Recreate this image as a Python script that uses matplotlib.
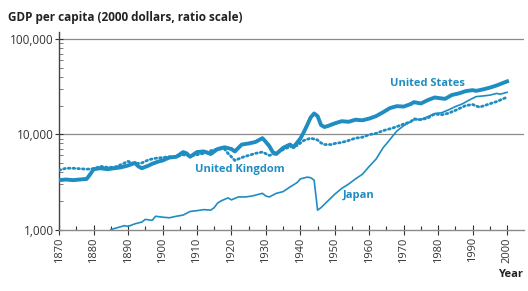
import matplotlib.pyplot as plt
from matplotlib.ticker import FixedLocator, NullFormatter, LogLocator

# GDP per capita, 2000 dollars
us_years = [1870, 1872, 1874, 1876, 1878, 1879, 1880, 1882, 1884, 1886, 1888, 1890,
            1892, 1893, 1894, 1896, 1897, 1899, 1900, 1902, 1904, 1906, 1907, 1908,
            1910, 1912, 1914, 1916, 1918, 1920, 1921, 1923, 1925, 1927, 1929, 1930,
            1931, 1932, 1933, 1935, 1937, 1938, 1940, 1941, 1942, 1943, 1944, 1945,
            1946, 1947, 1948, 1950, 1952, 1954, 1956, 1958, 1960, 1962, 1964, 1966,
            1968, 1970, 1972, 1973, 1975, 1977, 1979, 1980, 1982, 1984, 1986, 1988,
            1990, 1991, 1993, 1995, 1997, 1999, 2000]
us_gdp = [3300, 3350, 3300, 3350, 3400, 3800, 4300, 4400, 4300, 4400, 4500, 4700,
          5000, 4600, 4400, 4700, 4900, 5200, 5300, 5700, 5800, 6500, 6300, 5800,
          6500, 6600, 6200, 7000, 7300, 7000, 6600, 7800, 8000, 8300, 9100, 8300,
          7500, 6500, 6200, 7200, 7800, 7300, 9000, 10500, 12500, 15000, 16500, 15500,
          12500, 11900, 12200, 13000, 13700, 13500, 14200, 14000, 14600, 15500, 17000, 18800,
          19700, 19500, 20700, 21700, 21000, 22800, 24300, 24000, 23500, 25800, 26800, 28300,
          29000, 28500, 29500, 30800, 32500, 34700, 35800]

uk_years = [1870, 1872, 1874, 1876, 1878, 1880, 1882, 1884, 1886, 1888, 1890, 1892,
            1894, 1896, 1898, 1900, 1902, 1904, 1906, 1908, 1910, 1912, 1913, 1915,
            1917, 1918, 1919, 1920, 1921, 1923, 1925, 1927, 1929, 1931, 1933, 1935,
            1937, 1939, 1941, 1943, 1945, 1946, 1947, 1949, 1950, 1952, 1954, 1956,
            1958, 1960, 1962, 1964, 1966, 1968, 1970, 1972, 1973, 1975, 1977, 1979,
            1981, 1983, 1985, 1988, 1990, 1992, 1994, 1997, 2000]
uk_gdp = [4200, 4400, 4400, 4350, 4300, 4350, 4600, 4500, 4500, 4800, 5200, 4900,
          5000, 5400, 5600, 5700, 5800, 5800, 6100, 5900, 6100, 6300, 6500, 6900,
          7000, 7000, 6300, 5800, 5300, 5700, 6000, 6300, 6500, 6000, 6300, 6900,
          7400, 7600, 8600, 9100, 8700, 8100, 7800, 7800, 8000, 8200, 8600, 9100,
          9300, 9900, 10200, 10900, 11400, 12000, 12800, 13500, 14500, 14200, 14800, 16300,
          16000, 16600, 17800, 20000, 20500, 19200, 20300, 22000, 24500]

jp_years = [1885, 1887, 1889, 1890, 1892, 1894, 1895, 1897, 1898, 1900, 1902, 1904,
            1906, 1908, 1910, 1912, 1914, 1915, 1916, 1917, 1919, 1920, 1922, 1924,
            1926, 1928, 1929, 1930, 1931, 1933, 1935, 1937, 1939, 1940, 1942, 1943,
            1944, 1945, 1946, 1948, 1950, 1952, 1954, 1956, 1958, 1960, 1962, 1964,
            1966, 1968, 1970, 1972, 1973, 1975, 1977, 1979, 1981, 1983, 1985, 1987,
            1989, 1991, 1993, 1995, 1997, 1998, 2000]
jp_gdp = [1000, 1050, 1100, 1080, 1150, 1200, 1280, 1250, 1380, 1350, 1330, 1380,
          1420, 1550, 1580, 1620, 1600, 1700, 1900, 2000, 2150, 2050, 2200, 2200,
          2250, 2350, 2400, 2250, 2200, 2400, 2500, 2800, 3100, 3400, 3550, 3500,
          3300, 1600, 1700, 2000, 2350, 2700, 3000, 3400, 3800, 4600, 5500, 7200,
          8800, 10800, 12300, 13500, 14200, 14300, 15300, 16500, 16800, 18000, 19500, 20800,
          22800, 24800, 25200, 25700, 26800, 26300, 27500]

blue = "#1f8dc1"
grid_gray = "#8a8a8a"
text_gray = "#333333"

plt.rcParams["font.family"] = ["Open Sans", "DejaVu Sans"]

fig = plt.figure(figsize=(5.28, 2.91), dpi=100)
ax = fig.add_axes([0.112, 0.211, 0.881, 0.679])

ax.plot(us_years, us_gdp, color=blue, lw=2.8, solid_joinstyle="round", zorder=4)
ax.plot(uk_years, uk_gdp, color=blue, lw=2.0, ls=(0, (0.6, 1.1)),
        dash_capstyle="round", zorder=3)
ax.plot(jp_years, jp_gdp, color=blue, lw=1.2, zorder=3)

ax.set_yscale("log")
ax.set_ylim(1000, 118000)
ax.set_xlim(1870, 2005)

for v in [10000, 100000]:
    ax.axhline(v, color=grid_gray, lw=0.9, zorder=1)

ax.set_yticks([1000, 10000, 100000])
ax.set_yticklabels(["1,000", "10,000", "100,000"])
ax.yaxis.set_minor_locator(LogLocator(base=10, subs=range(2, 10)))
ax.yaxis.set_minor_formatter(NullFormatter())
ax.tick_params(axis="y", which="major", direction="inout", length=6, width=0.8,
               colors=text_gray, labelsize=8.5, pad=1)
ax.tick_params(axis="y", which="minor", direction="in", length=3, width=0.6,
               colors="#666666")

ax.set_xticks(list(range(1870, 2001, 10)))
ax.xaxis.set_minor_locator(FixedLocator(list(range(1875, 2000, 10))))
ax.tick_params(axis="x", which="major", direction="inout", length=7, width=0.8,
               colors=text_gray, labelsize=8, labelrotation=90, pad=2)
ax.tick_params(axis="x", which="minor", direction="in", length=3, width=0.8,
               colors=text_gray)

for side in ["top", "right"]:
    ax.spines[side].set_visible(False)
ax.spines["left"].set_color("#444444")
ax.spines["bottom"].set_color(grid_gray)
ax.spines["left"].set_linewidth(1.0)
ax.spines["bottom"].set_linewidth(1.0)

# series labels
ax.text(1977, 34000, "United States", color=blue, fontsize=8, fontweight="bold",
        ha="center", va="center")
ax.text(1922.5, 4230, "United Kingdom", color=blue, fontsize=8, fontweight="bold",
        ha="center", va="center")
ax.text(1957, 2300, "Japan", color=blue, fontsize=8, fontweight="bold",
        ha="center", va="center")

fig.text(0.015, 0.94, "GDP per capita (2000 dollars, ratio scale)", fontsize=8.5,
         fontweight="bold", color="#222222", ha="left", va="center")
fig.text(0.99, 0.055, "Year", fontsize=8, fontweight="bold", color="#222222",
         ha="right", va="center")

fig.savefig("out.png", dpi=100)
